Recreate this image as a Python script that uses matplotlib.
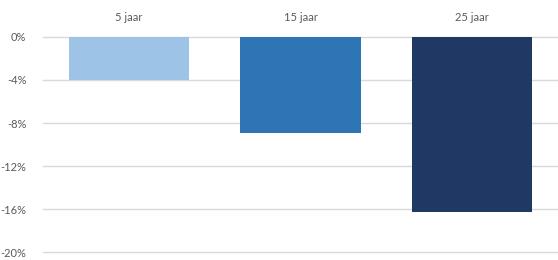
import matplotlib.pyplot as plt
from matplotlib.ticker import FuncFormatter

categories = ["5 jaar", "15 jaar", "25 jaar"]
values = [-4.0, -8.9, -16.3]
colors = ["#9DC3E6", "#2E75B6", "#1F3864"]
yticks = [0, -4, -8, -12, -16, -20]

plt.rcParams["font.family"] = ["Lato", "DejaVu Sans"]

fig = plt.figure(figsize=(5.58, 2.6), dpi=100)
ax = fig.add_axes([0.077, 0.03, 0.923, 0.828])

x = range(len(categories))
ax.bar(x, values, width=0.7, color=colors, zorder=3)

ax.set_ylim(-20, 0)
ax.set_xlim(-0.5, len(categories) - 0.5)
ax.set_yticks(yticks)
ax.yaxis.set_major_formatter(FuncFormatter(lambda v, p: f"{v:.0f}%"))
ax.grid(axis="y", color="#D9D9D9", linewidth=1, zorder=0)
ax.set_axisbelow(True)
for gl in ax.get_ygridlines():
    gl.set_clip_on(False)

ax.xaxis.tick_top()
ax.set_xticks(list(x))
ax.set_xticklabels(categories)
ax.tick_params(axis="x", length=0, pad=10, labelsize=8, colors="#595959")
ax.tick_params(axis="y", length=0, pad=12, labelsize=8, colors="#595959")

for s in ax.spines.values():
    s.set_visible(False)

fig.savefig("out.png", dpi=100)
